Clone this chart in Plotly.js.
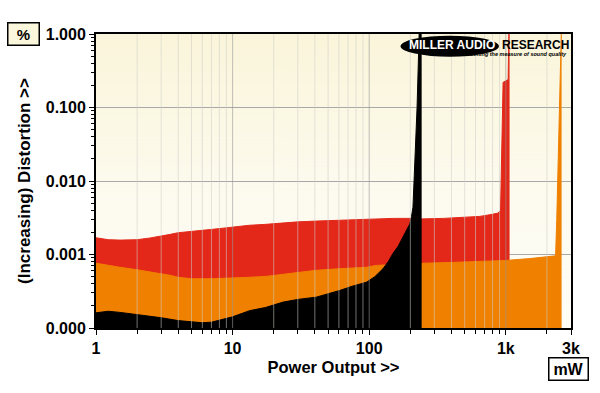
<!DOCTYPE html>
<html>
<head>
<meta charset="utf-8">
<script src="https://cdn.plot.ly/plotly-3.0.1.min.js"></script>
<style>
  html, body { margin: 0; padding: 0; background: #ffffff; }
  #chart { width: 600px; height: 393px; }
</style>
</head>
<body>
<div id="chart"></div>
<script>
// ---- Data ----
const redX = [1, 1.1, 1.23, 1.5, 2, 2.5, 3.05, 3.5, 4, 5, 6, 7.1, 8.5, 9.9, 13.3, 17.4, 23, 30, 41, 60, 95.5, 150, 198, 242, 350, 484, 646, 780, 879, 915, 955, 1000, 1040, 1055, 1065];
const redY = [0.00169, 0.00163, 0.00159, 0.00157, 0.00159, 0.00168, 0.00178, 0.00188, 0.00198, 0.00208, 0.00214, 0.0022, 0.00228, 0.00236, 0.0025, 0.00257, 0.0027, 0.00278, 0.00285, 0.00293, 0.00305, 0.0031, 0.0031, 0.00305, 0.0031, 0.0032, 0.0033, 0.0035, 0.00366, 0.004, 0.22, 0.23, 0.24, 1.5, 1.5];

const orangeX = [1, 1.23, 1.5, 2, 2.5, 3, 3.5, 4, 5, 7, 10, 13.3, 17.4, 25, 41, 60, 95.5, 112, 150, 200, 242, 400, 1000, 1500, 2210, 2313, 2360, 2480, 2560];
const orangeY = [0.00076, 0.00071, 0.00067, 0.00062, 0.00058, 0.00055, 0.00052, 0.00049, 0.000468, 0.000468, 0.000476, 0.00049, 0.000503, 0.00055, 0.00061, 0.00064, 0.00067, 0.00071, 0.00073, 0.00075, 0.00076, 0.00078, 0.00083, 0.00088, 0.00094, 0.00096, 0.003, 0.126, 1.5];

const blackX = [1, 1.23, 1.5, 2, 3, 4, 5, 6, 7, 8.5, 10, 13.3, 17.4, 23.4, 30, 41, 50, 60.8, 75, 95.5, 110, 126, 138, 149, 163, 177, 190, 198, 204, 209, 213, 224, 232, 236, 242];
const blackY = [0.000161, 0.000169, 0.000163, 0.000153, 0.000138, 0.000126, 0.00012, 0.000118, 0.00012, 0.00013, 0.000142, 0.000172, 0.00019, 0.000225, 0.000245, 0.000263, 0.00029, 0.000324, 0.00037, 0.00042, 0.0005, 0.00064, 0.0008, 0.00103, 0.0013, 0.00173, 0.0022, 0.0026, 0.0033, 0.0044, 0.0102, 0.1, 1.0, 1.5, 1.5];

const xTickVals = [1, 10, 100, 1000, 3000];
const xTickText = ['1', '10', '100', '1k', '3k'];
const yTickVals = [0.0001, 0.001, 0.01, 0.1, 1];
const yTickText = ['0.000', '0.001', '0.010', '0.100', '1.000'];

const xDecades = [1, 10, 100, 1000];
const yDecades = [0.0001, 0.001, 0.01, 0.1];
const xMax = 3000;

// ---- Styles ----
const RED = '#e3281a';
const ORANGE = '#f08000';
const BLACK = '#000000';
const FONT = 'Liberation Sans, Arial, Helvetica, sans-serif';

// minor tick values
const xMinor = [];
xDecades.forEach(d => { for (let m = 2; m <= 9; m++) { const v = d * m; if (v < xMax) xMinor.push(v); } });
const yMinor = [];
yDecades.forEach(d => { for (let m = 2; m <= 9; m++) yMinor.push(d * m); });

// background gradient image
const cv = document.createElement('canvas');
cv.width = 4; cv.height = 300;
const cx = cv.getContext('2d');
const g = cx.createLinearGradient(0, 0, 0, 300);
g.addColorStop(0, '#faf5da');
g.addColorStop(0.55, '#fdfbef');
g.addColorStop(1, '#fefdf7');
cx.fillStyle = g;
cx.fillRect(0, 0, 4, 300);
const bgURL = cv.toDataURL('image/png');

function area(x, y, color) {
  return {
    type: 'scatter', mode: 'lines', x: x, y: y,
    fill: 'tozeroy', fillcolor: color,
    line: { color: color, width: 1, shape: 'linear' },
    hoverinfo: 'skip', showlegend: false
  };
}

const traces = [
  area(redX, redY, RED),
  area(orangeX, orangeY, ORANGE),
  area(blackX, blackY, BLACK)
];

// vertical grid lines drawn over the fills
const shapes = [];
xMinor.forEach(v => shapes.push({
  type: 'line', xref: 'x', yref: 'paper', x0: v, x1: v, y0: 0, y1: 1,
  layer: 'above', line: { color: 'rgba(205,205,200,0.55)', width: 1 }
}));
xDecades.slice(1).forEach(v => shapes.push({
  type: 'line', xref: 'x', yref: 'paper', x0: v, x1: v, y0: 0, y1: 1,
  layer: 'above', line: { color: 'rgba(150,150,150,0.6)', width: 1 }
}));
// logo ellipse
shapes.push({
  type: 'circle', xref: 'paper', yref: 'paper',
  x0: 0.6411, x1: 0.8483, y0: 0.9228, y1: 0.9942,
  fillcolor: '#000000', line: { width: 0 }, layer: 'above'
});

const annotations = [
  { xref: 'paper', yref: 'paper', x: -0.1528, y: 1.0017, xanchor: 'center', yanchor: 'middle',
    text: '%', showarrow: false, font: { family: FONT, size: 15, color: '#000', weight: 'bold' },
    bgcolor: '#fbf7dc', bordercolor: '#000', borderwidth: 1.5, width: 28, height: 19, borderpad: 1 },
  { xref: 'paper', yref: 'paper', x: 0.9947, y: -0.1378, xanchor: 'center', yanchor: 'middle',
    text: 'mW', showarrow: false, font: { family: FONT, size: 16, color: '#000', weight: 'bold' },
    bgcolor: '#ffffff', bordercolor: '#000', borderwidth: 1.5, width: 36, height: 19, borderpad: 1 },
  { xref: 'paper', yref: 'paper', x: 0.7492, y: 0.9626, xanchor: 'center', yanchor: 'middle',
    text: 'MILLER AUDIO', showarrow: false, font: { family: FONT, size: 12, color: '#ffffff', weight: 'bold' } },
  { xref: 'paper', yref: 'paper', x: 0.8504, y: 0.9626, xanchor: 'left', yanchor: 'middle',
    text: 'RESEARCH', showarrow: false, font: { family: FONT, size: 12, color: '#000000', weight: 'bold' } },
  { xref: 'paper', yref: 'paper', x: 0.9958, y: 0.9303, xanchor: 'right', yanchor: 'middle',
    text: 'Getting the measure of sound quality', showarrow: false,
    font: { family: 'Liberation Sans Narrow, ' + FONT, size: 5.5, color: '#000000', weight: 'bold', style: 'italic' } }
];

const layout = {
  width: 600, height: 393,
  margin: { l: 96, r: 29, t: 34, b: 65 },
  paper_bgcolor: '#ffffff',
  plot_bgcolor: 'rgba(0,0,0,0)',
  showlegend: false,
  font: { family: FONT, size: 15, color: '#000' },
  images: [{ source: bgURL, xref: 'paper', yref: 'paper', x: 0, y: 1, sizex: 1, sizey: 1,
             sizing: 'stretch', layer: 'below', xanchor: 'left', yanchor: 'top' }],
  xaxis: {
    type: 'log', range: [0, Math.log10(xMax)],
    tickmode: 'array', tickvals: xTickVals, ticktext: xTickText,
    ticks: 'outside', ticklen: 5, tickwidth: 1, tickcolor: '#000',
    tickfont: { family: FONT, size: 16, weight: 'bold', color: '#000' },
    minor: { tickmode: 'array', tickvals: xMinor, ticks: 'outside', ticklen: 4, tickwidth: 1, tickcolor: '#000', showgrid: false },
    showgrid: false, zeroline: false,
    showline: true, linecolor: '#000', linewidth: 2, mirror: true,
    title: { text: 'Power Output >>', font: { family: FONT, size: 16.5, weight: 'bold' }, standoff: 5 }
  },
  yaxis: {
    type: 'log', range: [-4, 0],
    tickmode: 'array', tickvals: yTickVals, ticktext: yTickText,
    ticks: 'outside', ticklen: 5, tickwidth: 1, tickcolor: '#000',
    tickfont: { family: FONT, size: 16, weight: 'bold', color: '#000' },
    minor: { tickmode: 'array', tickvals: yMinor, ticks: 'outside', ticklen: 3, tickwidth: 1, tickcolor: '#000', showgrid: false },
    showgrid: true, gridcolor: '#a8a8a8', gridwidth: 1, zeroline: false,
    showline: true, linecolor: '#000', linewidth: 2, mirror: true,
    title: { text: '(Increasing) Distortion >>', font: { family: FONT, size: 17, weight: 'bold' }, standoff: 11 }
  },
  shapes: shapes,
  annotations: annotations
};

Plotly.newPlot('chart', traces, layout, { staticPlot: true, displayModeBar: false });
</script>
</body>
</html>
